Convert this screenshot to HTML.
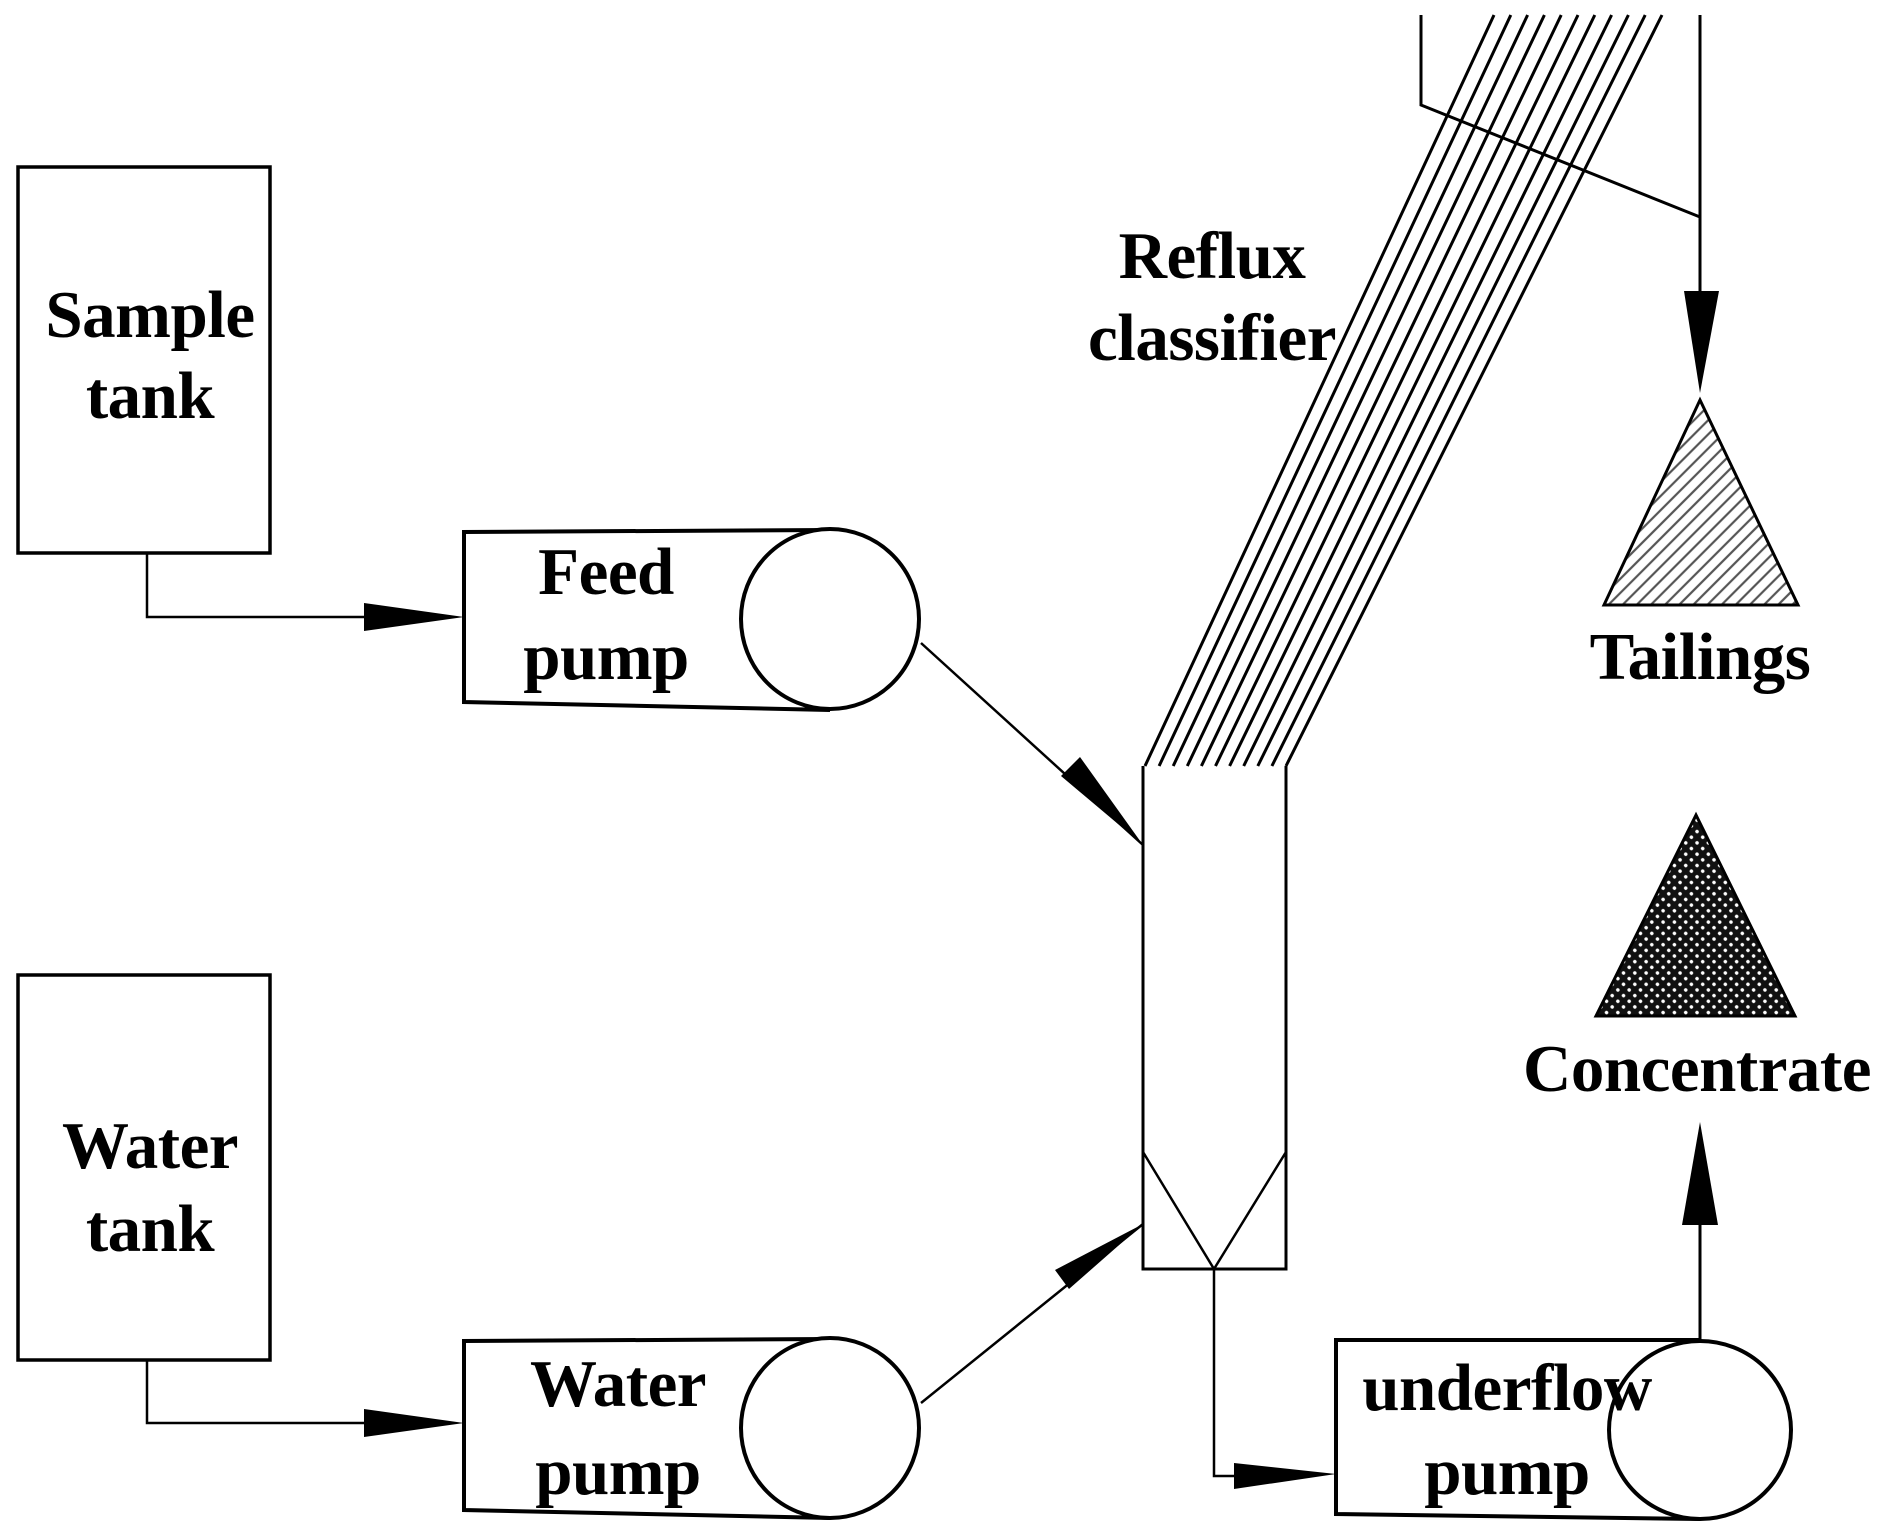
<!DOCTYPE html>
<html><head><meta charset="utf-8"><style>
html,body{margin:0;padding:0;background:#fff;}
svg{display:block;}
text{font-family:"Liberation Serif",serif;font-weight:bold;fill:#000;text-anchor:middle;}
</style></head><body>
<svg width="1901" height="1539" viewBox="0 0 1901 1539" xmlns="http://www.w3.org/2000/svg">
<defs>
<pattern id="hatch" width="10" height="10" patternUnits="userSpaceOnUse" patternTransform="rotate(-45)">
<rect width="10" height="10" fill="#fff"/><line x1="0" y1="5" x2="10" y2="5" stroke="#555" stroke-width="2.2"/>
</pattern>
<pattern id="cross" width="8" height="8" patternUnits="userSpaceOnUse" patternTransform="rotate(45)">
<rect width="8" height="8" fill="#111"/><circle cx="4" cy="4" r="1.8" fill="#fff"/>
</pattern>
</defs>
<g fill="none" stroke="#000">
<rect x="18" y="167" width="252" height="386" stroke-width="3.5"/>
<rect x="18" y="975" width="252" height="385" stroke-width="3.5"/>
<polyline points="147,553 147,617 380,617" stroke-width="2.5"/>
<polyline points="147,1360 147,1423 380,1423" stroke-width="2.5"/>
<path d="M830,530 L464,532 L464,702 L830,710" stroke-width="4"/>
<ellipse cx="830" cy="619" rx="89" ry="90" fill="#fff" stroke-width="4"/>
<path d="M830,1339 L464,1341 L464,1510 L830,1518" stroke-width="4"/>
<ellipse cx="830" cy="1428" rx="89" ry="90" fill="#fff" stroke-width="4"/>
<path d="M1700,1340 L1336,1340 L1336,1514 L1700,1519" stroke-width="4"/>
<ellipse cx="1700" cy="1430" rx="91" ry="89" fill="#fff" stroke-width="4"/>
<line x1="921" y1="643" x2="1143" y2="845" stroke-width="2.5"/>
<line x1="921" y1="1403" x2="1143" y2="1224" stroke-width="2.5"/>
<polyline points="1143,766 1143,1269 1286,1269 1286,766" stroke-width="3"/>
<polyline points="1143,1152 1214,1269 1286,1152" stroke-width="2.5"/>
<g stroke-width="3">
<line x1="1145" y1="766" x2="1494" y2="15"/>
<line x1="1159.1" y1="766" x2="1510.8" y2="15"/>
<line x1="1173.2" y1="766" x2="1527.6" y2="15"/>
<line x1="1187.3" y1="766" x2="1544.4" y2="15"/>
<line x1="1201.4" y1="766" x2="1561.2" y2="15"/>
<line x1="1215.5" y1="766" x2="1578" y2="15"/>
<line x1="1229.6" y1="766" x2="1594.8" y2="15"/>
<line x1="1243.7" y1="766" x2="1611.6" y2="15"/>
<line x1="1257.8" y1="766" x2="1628.4" y2="15"/>
<line x1="1271.9" y1="766" x2="1645.2" y2="15"/>
<line x1="1286" y1="766" x2="1662" y2="15"/>
</g>
<polyline points="1421,15 1421,105 1700,217" stroke-width="3"/>
<line x1="1700" y1="15" x2="1700" y2="300" stroke-width="3"/>
<polyline points="1214,1269 1214,1476 1240,1476" stroke-width="2.5"/>
<line x1="1700" y1="1340" x2="1700" y2="1220" stroke-width="3"/>
</g>
<g fill="#000">
<polygon points="364,603 464,617 364,631"/>
<polygon points="364,1409 464,1423 364,1437"/>
<polygon points="1234,1463 1336,1474 1234,1489"/>
<polygon points="1684,291 1719,291 1700,393"/>
<polygon points="1682,1225 1718,1225 1700,1122"/>
<polygon points="1061,776 1143,845 1080,757"/>
<polygon points="1069,1289 1143,1224 1055,1270"/>
</g>
<polygon points="1700,400 1604,605 1798,605" fill="url(#hatch)" stroke="#000" stroke-width="3"/>
<polygon points="1696,815 1596,1016 1795,1016" fill="url(#cross)" stroke="#000" stroke-width="3"/>
<g font-size="67" style="letter-spacing:-0.5px">
<text x="150" y="337">Sample</text>
<text x="150" y="418">tank</text>
<text x="150" y="1168">Water</text>
<text x="150" y="1251">tank</text>
<text x="606" y="594">Feed</text>
<text x="606" y="679">pump</text>
<text x="618" y="1406">Water</text>
<text x="618" y="1494">pump</text>
<text x="1212" y="278">Reflux</text>
<text x="1212" y="360">classifier</text>
<text x="1700" y="679">Tailings</text>
<text x="1697" y="1091">Concentrate</text>
<text x="1507" y="1410">underflow</text>
<text x="1507" y="1494">pump</text>
</g>
</svg>
</body></html>
